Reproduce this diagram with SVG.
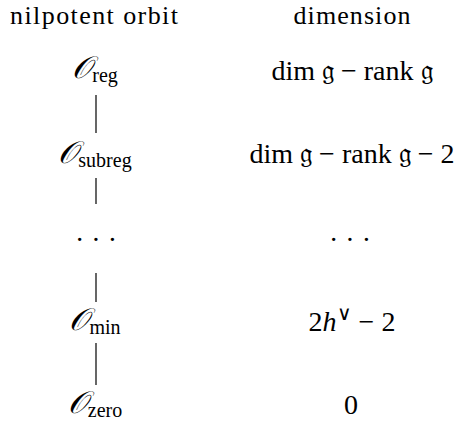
<svg xmlns="http://www.w3.org/2000/svg" width="457" height="421" viewBox="0 0 457 421" font-family="'Liberation Serif', 'Times New Roman', serif">
<style>
text{font-family:'Liberation Serif','Times New Roman',serif;fill:#000;text-anchor:middle}
.h{font-size:26px}
.m{font-size:28px}
.o{font-style:italic;font-size:31px}
.s{font-size:20px}
.c line{stroke:#000;stroke-width:1.2}
</style>
<rect width="457" height="421" fill="#fff"/>
<g id="headers">
<text class="h" x="94" y="24" textLength="168" lengthAdjust="spacing">nilpotent orbit</text>
<text class="h" x="352" y="24" textLength="117" lengthAdjust="spacing">dimension</text>
</g>
<g class="c" id="connectors">
<line x1="96" y1="95" x2="96" y2="133"/>
<line x1="96" y1="178" x2="96" y2="204"/>
<line x1="96" y1="273" x2="96" y2="302"/>
<line x1="96" y1="343" x2="96" y2="385"/>
</g>
<g id="node-reg">
<text class="m" x="95" y="78"><tspan class="o">𝒪</tspan><tspan class="s" dy="4">reg</tspan></text>
<text class="m" x="352" y="80">dim 𝔤 − rank 𝔤</text>
</g>
<g id="node-subreg">
<text class="m" x="95" y="163"><tspan class="o">𝒪</tspan><tspan class="s" dy="4">subreg</tspan></text>
<text class="m" x="352" y="163">dim 𝔤 − rank 𝔤 − 2</text>
</g>
<g id="node-dots">
<text class="m" x="96" y="249">· · ·</text>
<text class="m" x="350" y="249">· · ·</text>
</g>
<g id="node-min">
<text class="m" x="95" y="330"><tspan class="o">𝒪</tspan><tspan class="s" dy="4">min</tspan></text>
<text class="m" x="352" y="331">2<tspan font-style="italic">h</tspan><tspan class="s" dy="-11">∨</tspan><tspan dy="11"> − 2</tspan></text>
</g>
<g id="node-zero">
<text class="m" x="95" y="413"><tspan class="o">𝒪</tspan><tspan class="s" dy="4">zero</tspan></text>
<text class="m" x="351" y="414">0</text>
</g>
</svg>
